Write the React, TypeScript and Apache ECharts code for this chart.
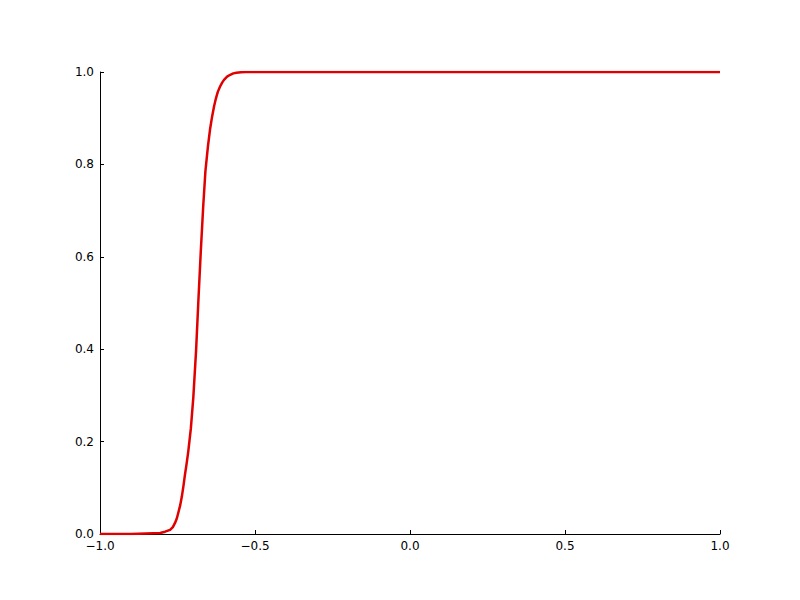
import React, { useEffect, useRef } from "react";
import * as echarts from "echarts";

const xValues = [
  -1.0, -0.9, -0.806, -0.79, -0.774, -0.765, -0.758, -0.752, -0.747, -0.741,
  -0.736, -0.731, -0.726, -0.72, -0.715, -0.707, -0.699, -0.69, -0.683, -0.675,
  -0.667, -0.66, -0.652, -0.645, -0.638, -0.632, -0.626, -0.62, -0.613, -0.606,
  -0.6, -0.59, -0.58, -0.57, -0.56, -0.545, -0.53, -0.516, 0.0, 0.5, 1.0,
];
const yValues = [
  0.0, 0.0, 0.002, 0.005, 0.009, 0.015, 0.024, 0.034, 0.047, 0.063,
  0.081, 0.103, 0.128, 0.155, 0.18, 0.228, 0.295, 0.398, 0.5, 0.61,
  0.71, 0.785, 0.838, 0.876, 0.905, 0.926, 0.943, 0.957, 0.968, 0.977,
  0.983, 0.99, 0.994, 0.997, 0.9985, 0.9995, 0.9998, 1.0, 1.0, 1.0, 1.0,
];
const xTicks = { min: -1, max: 1, interval: 0.5 };
const yTicks = { min: 0, max: 1, interval: 0.2 };

const fmt = (v: number) => v.toFixed(1).replace("-", "\u2212");

export default function App() {
  const ref = useRef<HTMLDivElement>(null);
  useEffect(() => {
    if (!ref.current) return;
    const chart = echarts.init(ref.current, null, { renderer: "svg" });
    const axisCommon = {
      type: "value" as const,
      splitLine: { show: false },
      axisLine: { show: true, onZero: false, lineStyle: { color: "#000", width: 1 } },
      axisTick: { show: true, inside: true, length: 4, lineStyle: { color: "#000" } },
      axisLabel: {
        color: "#000",
        fontFamily: "DejaVu Sans",
        fontSize: 12,
        formatter: fmt,
      },
    };
    chart.setOption({
      animation: false,
      backgroundColor: "#fff",
      grid: { left: 100, right: 80, top: 72, bottom: 66, containLabel: false },
      xAxis: {
        ...axisCommon,
        ...xTicks,
        axisLabel: { ...axisCommon.axisLabel, margin: 6 },
      },
      yAxis: {
        ...axisCommon,
        ...yTicks,
        axisLabel: { ...axisCommon.axisLabel, margin: 6 },
      },
      series: [
        {
          type: "line",
          data: xValues.map((x, i) => [x, yValues[i]]),
          showSymbol: false,
          smooth: false,
          clip: true,
          lineStyle: { color: "#e00000", width: 2.5, join: "round" },
        },
      ],
    });
    return () => chart.dispose();
  }, []);
  return <div ref={ref} style={{ width: 800, height: 600, margin: -8 }} />;
}
